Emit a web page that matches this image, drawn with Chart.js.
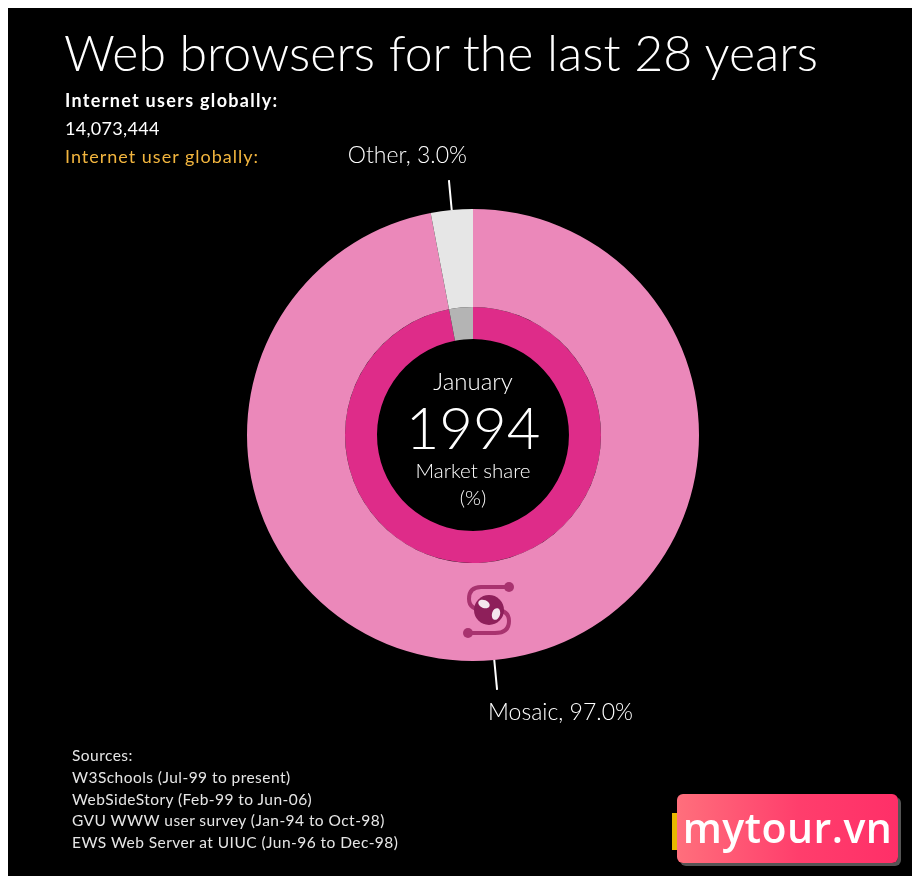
<!DOCTYPE html>
<html>
<head>
<meta charset="utf-8">
<script src="https://cdn.jsdelivr.net/npm/chart.js@4"></script>
<style>
  html, body { margin: 0; padding: 0; background: #fff; }
  #frame { position: absolute; left: 8px; top: 8px; width: 904px; height: 868px; background: #000; }
  #stage { position: absolute; left: 0; top: 0; width: 912px; height: 882px; }
  .txt { position: absolute; color: #fff; font-family: 'Lato', sans-serif; white-space: nowrap; }
  #title { left: 64px; top: 22px; font-size: 50px; font-weight: 300; }
  #sub1 { left: 65px; top: 89px; font-size: 18px; font-weight: 700; letter-spacing: 1.3px; }
  #sub2 { left: 65px; top: 117px; font-size: 18px; letter-spacing: 0.3px; }
  #sub3 { left: 65px; top: 145px; font-size: 18px; color: #f2b53e; letter-spacing: 1px; }
  #sources { left: 72px; top: 745px; font-size: 15.5px; line-height: 21.8px; color: #e6e6e6; letter-spacing: 0.45px; }
  #brand { position: absolute; left: 677px; top: 794px; width: 221px; height: 69px; border-radius: 6px;
    background: linear-gradient(90deg, #ff6f7c 0%, #ff3e6c 55%, #ff2f68 100%);
    box-shadow: 3px 3px 0 #555; color: #fff; font-family: 'Open Sans', sans-serif; font-weight: 600;
    font-size: 41px; line-height: 66px; text-align: center; letter-spacing: 0.5px; }
  #bar { position: absolute; left: 672px; top: 813px; width: 6px; height: 37px; background: #e8b800; }
</style>
</head>
<body>
<div id="frame"></div>
<canvas id="stage" width="912" height="882"></canvas>
<div class="txt" id="title">Web browsers for the last 28 years</div>
<div class="txt" id="sub1">Internet users globally:</div>
<div class="txt" id="sub2">14,073,444</div>
<div class="txt" id="sub3">Internet user globally:</div>
<div class="txt" id="sources">Sources:<br>W3Schools (Jul-99 to present)<br>WebSideStory (Feb-99 to Jun-06)<br>GVU WWW user survey (Jan-94 to Oct-98)<br>EWS Web Server at UIUC (Jun-96 to Dec-98)</div>
<div id="bar"></div>
<div id="brand">mytour.vn</div>
<script>
const browsers = ['Mosaic', 'Other'];
const shares = [97.0, 3.0];
const outerColors = ['#eb88ba', '#e6e6e6'];
const innerColors = ['#de2c89', '#b4b4b4'];
const centerLines = ['January', '1994', 'Market share', '(%)'];

// pequeño icono del navegador dentro de la porción grande
function drawIcon(ctx, x, y) {
  ctx.save();
  ctx.strokeStyle = '#a8336f';
  ctx.fillStyle = '#a8336f';
  ctx.lineWidth = 4;
  ctx.lineCap = 'round';
  ctx.beginPath();
  ctx.moveTo(x + 18, y - 23);
  ctx.lineTo(x - 8, y - 23);
  ctx.quadraticCurveTo(x - 20, y - 23, x - 20, y - 11);
  ctx.quadraticCurveTo(x - 20, y, x - 4, y);
  ctx.lineTo(x + 6, y);
  ctx.quadraticCurveTo(x + 20, y, x + 20, y + 11);
  ctx.quadraticCurveTo(x + 20, y + 23, x + 6, y + 23);
  ctx.lineTo(x - 20, y + 23);
  ctx.stroke();
  ctx.beginPath(); ctx.arc(x + 20, y - 23, 5, 0, Math.PI * 2); ctx.fill();
  ctx.beginPath(); ctx.arc(x - 21, y + 23, 5, 0, Math.PI * 2); ctx.fill();
  ctx.fillStyle = '#8e1f5a';
  ctx.beginPath(); ctx.arc(x, y, 15, 0, Math.PI * 2); ctx.fill();
  ctx.fillStyle = '#f4e6ee';
  ctx.beginPath(); ctx.ellipse(x - 5, y - 6, 6, 4, 0.4, 0, Math.PI * 2); ctx.fill();
  ctx.beginPath(); ctx.ellipse(x + 7, y + 4, 4, 6, 0.3, 0, Math.PI * 2); ctx.fill();
  ctx.restore();
}

// etiquetas con línea guía en el punto medio de cada porción
const sliceLabels = {
  id: 'sliceLabels',
  afterDraw(chart) {
    const ctx = chart.ctx;
    const meta = chart.getDatasetMeta(0);
    const cx = meta.data[0].x, cy = meta.data[0].y;
    drawIcon(ctx, cx + 16, cy + 175);
    ctx.save();
    meta.data.forEach(function (arc, i) {
      const p = arc.getProps(['x', 'y', 'startAngle', 'endAngle', 'outerRadius'], true);
      const mid = (p.startAngle + p.endAngle) / 2;
      const r0 = p.outerRadius, r1 = p.outerRadius + 30;
      const x0 = p.x + Math.cos(mid) * r0, y0 = p.y + Math.sin(mid) * r0;
      const x1 = p.x + Math.cos(mid) * r1, y1 = p.y + Math.sin(mid) * r1;
      ctx.strokeStyle = '#fff';
      ctx.lineWidth = 2;
      ctx.beginPath();
      ctx.moveTo(x0, y0);
      ctx.lineTo(x1, y1);
      ctx.stroke();
      ctx.fillStyle = '#fff';
      ctx.font = '300 23px Lato, sans-serif';
      const txt = browsers[i] + ', ' + shares[i].toFixed(1) + '%';
      ctx.textBaseline = 'alphabetic';
      if (y1 < p.y) {
        ctx.textAlign = 'right';
        ctx.fillText(txt, x1 + 18, y1 - 17);
      } else {
        ctx.textAlign = 'left';
        ctx.fillText(txt, x1 - 9, y1 + 30);
      }
    });
    // texto central
    ctx.textAlign = 'center';
    ctx.textBaseline = 'middle';
    ctx.font = '300 24px Lato, sans-serif';
    ctx.fillText(centerLines[0], cx, cy - 53);
    ctx.font = '300 58px Lato, sans-serif';
    ctx.fillText(centerLines[1], cx, cy - 5);
    ctx.font = '300 20.5px Lato, sans-serif';
    ctx.fillText(centerLines[2], cx, cy + 36);
    ctx.fillText(centerLines[3], cx, cy + 63);
    ctx.restore();
  }
};

new Chart(document.getElementById('stage').getContext('2d'), {
  type: 'doughnut',
  data: {
    labels: browsers,
    datasets: [
      { data: shares, backgroundColor: outerColors, borderWidth: 0, weight: 98 },
      { data: shares, backgroundColor: innerColors, borderWidth: 0, weight: 32 }
    ]
  },
  options: {
    responsive: false,
    animation: false,
    cutout: 96,
    layout: { padding: { left: 247, right: 213, top: 209, bottom: 221 } },
    plugins: { legend: { display: false }, tooltip: { enabled: false } }
  },
  plugins: [sliceLabels]
});
</script>
</body>
</html>
